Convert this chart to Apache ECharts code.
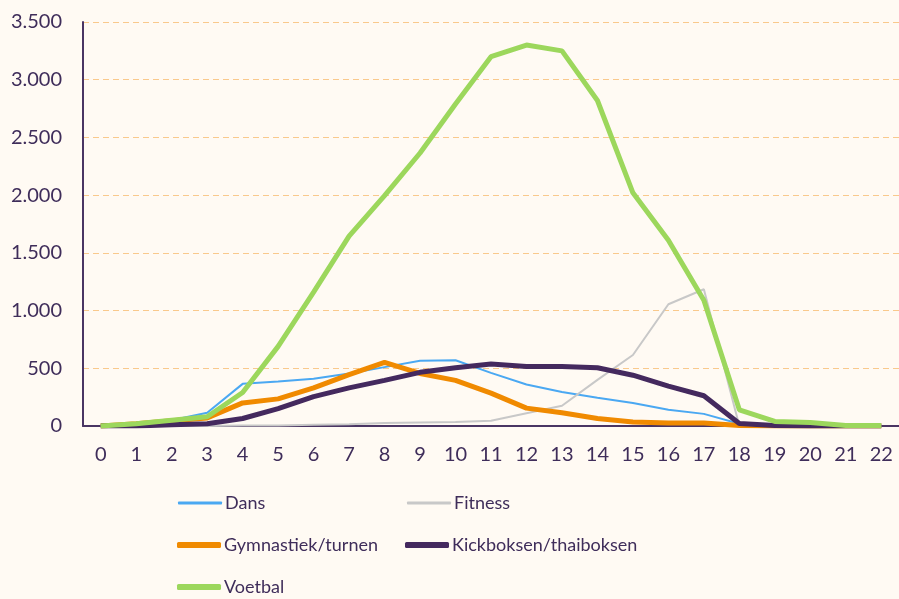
<!DOCTYPE html>
<html>
<head>
<meta charset="utf-8">
<script src="https://cdn.jsdelivr.net/npm/echarts@6/dist/echarts.min.js"></script>
<style>
  html, body { margin: 0; padding: 0; background: #fffaf3; }
  #chart { width: 899px; height: 599px; }
</style>
</head>
<body>
<div id="chart"></div>
<script>
  // hours 0..22
  const hours = ['0','1','2','3','4','5','6','7','8','9','10','11','12','13','14','15','16','17','18','19','20','21','22'];

  const dans       = [0, 20, 50, 115, 365, 385, 410, 455, 510, 565, 570, 460, 360, 295, 245, 200, 140, 105, 20, 5, 0, 0, 0];
  const fitness    = [0, 0, 0, 0, 5, 5, 10, 15, 25, 30, 35, 45, 110, 175, 400, 615, 1055, 1185, 0, 0, 0, 0, 0];
  const gymnastiek = [0, 20, 45, 70, 200, 235, 330, 445, 552, 455, 395, 285, 155, 115, 65, 35, 25, 25, 5, 0, 0, 0, 0];
  const kickboksen = [0, 0, 10, 20, 65, 150, 255, 330, 395, 465, 505, 537, 515, 515, 505, 440, 345, 262, 22, 5, 0, 0, 0];
  const voetbal    = [0, 20, 50, 80, 290, 690, 1160, 1645, 1995, 2365, 2790, 3200, 3300, 3250, 2820, 2020, 1610, 1090, 140, 40, 30, 5, 5];

  const names  = ['Dans', 'Fitness', 'Gymnastiek/turnen', 'Kickboksen/thaiboksen', 'Voetbal'];
  const colors = ['#4aa8f2', '#c8c8c8', '#f08a00', '#44295e', '#9cd75c'];
  const widths = [2, 2, 5, 5, 5];
  const values = [dans, fitness, gymnastiek, kickboksen, voetbal];

  const TXT = '#3f2d5a';
  const FONT = 'Lato';

  const fmt = (v) => String(v).replace(/\B(?=(\d{3})+(?!\d))/g, '.');

  // legend slots: [left, row centre]
  const legendPos = [[178, 503], [407, 503], [177, 545], [405, 545], [177, 587]];

  const chart = echarts.init(document.getElementById('chart'), null, { renderer: 'canvas' });
  chart.setOption({
    backgroundColor: '#fffaf3',
    animation: false,
    grid: { left: 83, right: 0, top: 22, bottom: 173 },
    legend: names.map((n, i) => ({
      data: [n],
      left: legendPos[i][0],
      top: legendPos[i][1] - 11,
      padding: 0,
      icon: 'roundRect',
      itemWidth: 44,
      itemHeight: widths[i] + 1,
      itemGap: 0,
      itemStyle: { color: colors[i] },
      textStyle: { color: TXT, fontFamily: FONT, fontSize: 18, lineHeight: 22, padding: [0, 0, 0, -2] },
    })),
    xAxis: {
      type: 'category',
      data: hours,
      boundaryGap: true,
      axisLine: { lineStyle: { color: '#4a3563', width: 2 } },
      axisTick: { show: false },
      axisLabel: { color: TXT, fontFamily: FONT, fontSize: 20, margin: 19 },
    },
    yAxis: {
      type: 'value',
      min: 0, max: 3500, interval: 500,
      axisLine: { show: true, lineStyle: { color: '#4a3563', width: 2 } },
      axisTick: { show: false },
      axisLabel: { color: TXT, fontFamily: FONT, fontSize: 20, margin: 21, formatter: fmt },
      splitLine: { lineStyle: { color: '#f9c98c', type: [6, 4], width: 1.2 } },
    },
    series: names.map((n, i) => ({
      name: n,
      type: 'line',
      data: values[i],
      symbol: 'none',
      color: colors[i],
      lineStyle: { color: colors[i], width: widths[i] },
      z: i + 2,
    })),
  });
</script>
</body>
</html>
